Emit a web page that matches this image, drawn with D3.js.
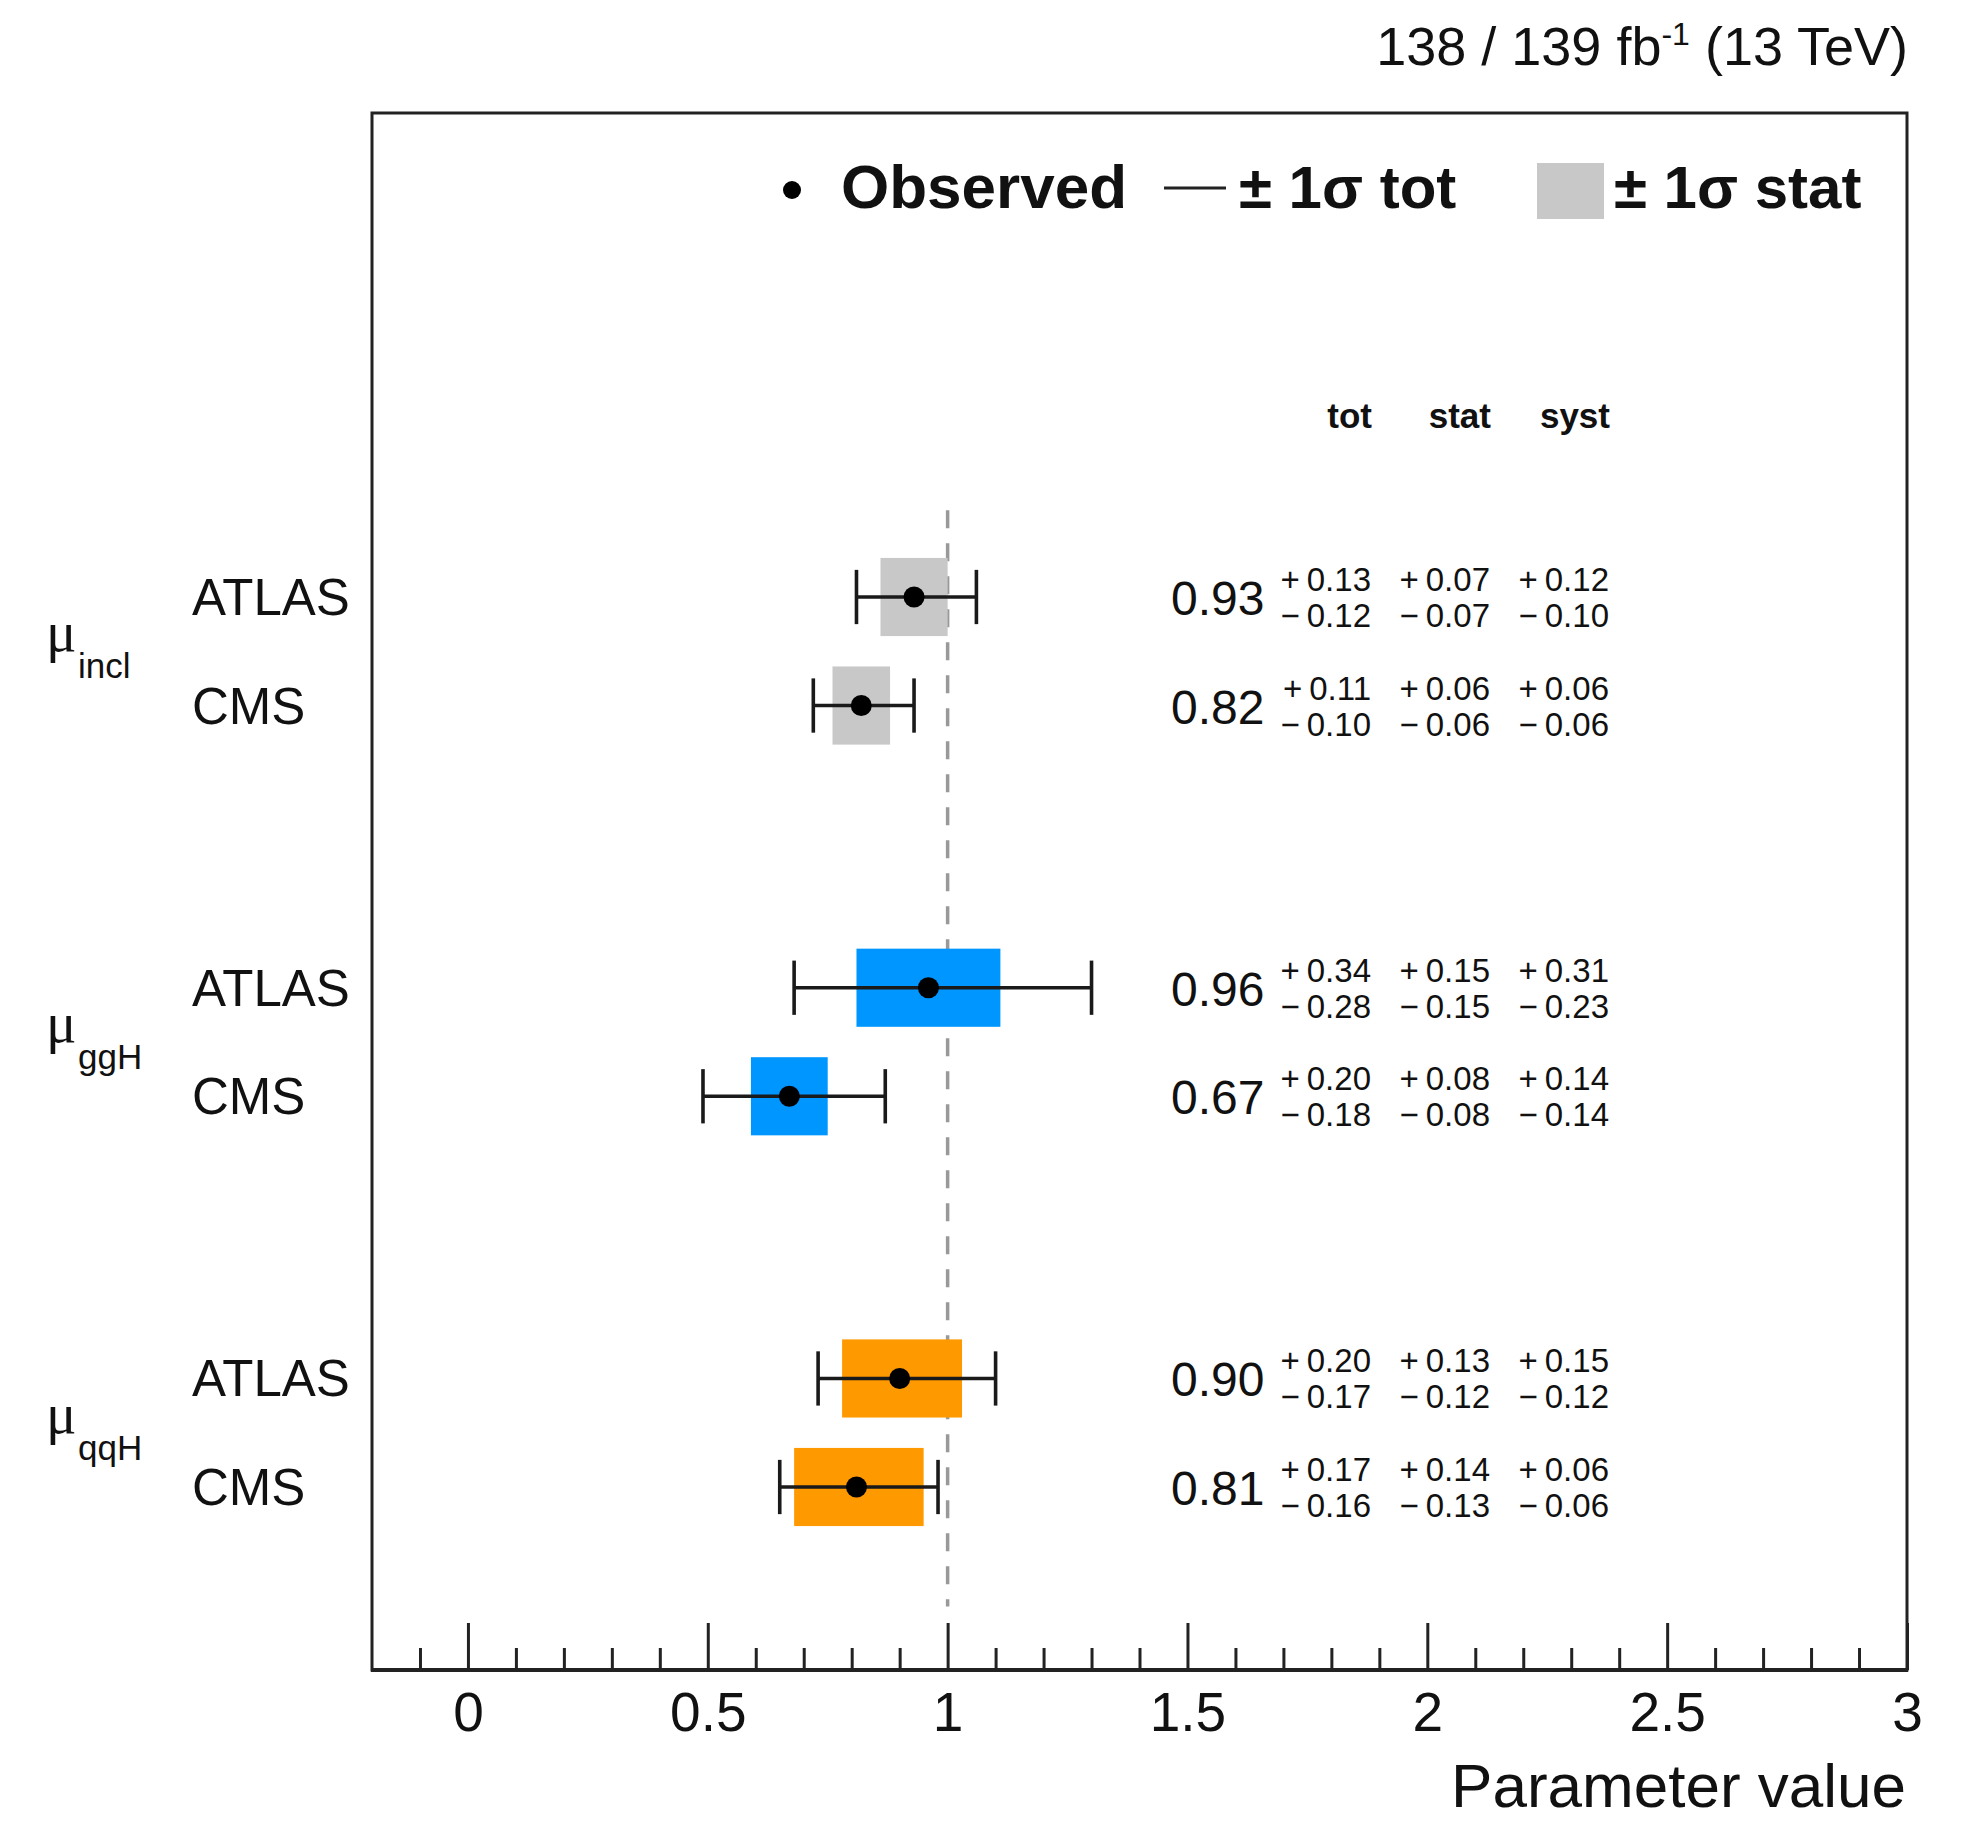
<!DOCTYPE html>
<html>
<head>
<meta charset="utf-8">
<script src="https://cdn.jsdelivr.net/npm/d3@7"></script>
<style>
    body { margin: 0; background: white; }
    text { font-family: "Liberation Sans", Arial, Helvetica, sans-serif; fill: #111; }
</style>
</head>
<body>
<div id="chart"></div>
<script>

// values (ATLAS / CMS per parameter)
var groups = ["incl", "ggH", "qqH"];
var experiments = ["ATLAS", "CMS"];
var central = [0.93, 0.82, 0.96, 0.67, 0.90, 0.81];
var totUp   = [0.13, 0.11, 0.34, 0.20, 0.20, 0.17];
var totDn   = [0.12, 0.10, 0.28, 0.18, 0.17, 0.16];
var statUp  = [0.07, 0.06, 0.15, 0.08, 0.13, 0.14];
var statDn  = [0.07, 0.06, 0.15, 0.08, 0.12, 0.13];
var systUp  = [0.12, 0.06, 0.31, 0.14, 0.15, 0.06];
var systDn  = [0.10, 0.06, 0.23, 0.14, 0.12, 0.06];
var groupColors = ["#c8c8c8", "#0096ff", "#ff9900"];
var xTicks = [0, 0.5, 1, 1.5, 2, 2.5, 3];
var columns = ["tot", "stat", "syst"];

var width = 1962, height = 1822;
var frame = {left: 372, right: 1907, top: 113, bottom: 1670};

var x = d3.scaleLinear().domain([-0.2, 3]).range([frame.left, frame.right]);
// row position: group * 3.6 + experiment index
var y = d3.scaleLinear().domain([0, 8.2]).range([597, 1487]);

var rows = [];
groups.forEach(function (g, gi) {
    experiments.forEach(function (e, ei) {
        var i = gi * 2 + ei;
        rows.push({
            group: gi, exp: e, pos: gi * 3.6 + ei,
            c: central[i], tu: totUp[i], td: totDn[i],
            su: statUp[i], sd: statDn[i], yu: systUp[i], yd: systDn[i]
        });
    });
});

var svg = d3.select("#chart").append("svg")
    .attr("width", width)
    .attr("height", height)
    .style("background", "white");

// title
var title = svg.append("text")
    .attr("x", 1908).attr("y", 65)
    .attr("text-anchor", "end")
    .style("font-size", "54px");
title.append("tspan").text("138 / 139 fb");
title.append("tspan").attr("dy", -20).style("font-size", "32px").text("-1");
title.append("tspan").attr("dy", 20).text(" (13 TeV)");

// frame
svg.append("rect")
    .attr("x", frame.left).attr("y", frame.top)
    .attr("width", frame.right - frame.left)
    .attr("height", frame.bottom - frame.top)
    .attr("fill", "none")
    .attr("stroke", "#222")
    .attr("stroke-width", 3);

// minor ticks
var minorVals = d3.range(-1, 30).filter(function (i) { return i % 5 !== 0; })
    .map(function (i) { return i / 10; });

svg.append("g")
    .attr("transform", "translate(0," + frame.bottom + ")")
    .call(d3.axisBottom(x).tickValues(minorVals).tickSize(-22).tickFormat(""))
    .call(function (g) { g.select(".domain").remove(); })
    .selectAll("line").attr("stroke", "#222").attr("stroke-width", 3);

// major ticks
var xAxis = svg.append("g")
    .attr("transform", "translate(0," + frame.bottom + ")")
    .call(d3.axisBottom(x).tickValues(xTicks).tickSize(-47).tickPadding(22)
        .tickFormat(function (d) { return String(d); }));
xAxis.select(".domain").remove();
xAxis.selectAll("line").attr("stroke", "#222").attr("stroke-width", 3);
xAxis.selectAll("text")
    .style("font-size", "55px")
    .style("font-family", "'Liberation Sans', Arial, sans-serif")
    .attr("fill", "#111");

svg.append("line")
    .attr("x1", frame.left - 1).attr("x2", frame.right + 1)
    .attr("y1", frame.bottom).attr("y2", frame.bottom)
    .attr("stroke", "#222").attr("stroke-width", 4);

svg.append("text")
    .attr("x", 1906).attr("y", 1807)
    .attr("text-anchor", "end")
    .style("font-size", "62px")
    .text("Parameter value");

// SM reference line
svg.append("line")
    .attr("x1", x(1)).attr("x2", x(1))
    .attr("y1", y(-0.8)).attr("y2", y(9.3))
    .attr("stroke", "#999")
    .attr("stroke-width", 3.5)
    .attr("stroke-dasharray", "18,15");

// stat boxes
svg.append("g").selectAll("rect")
    .data(rows)
    .enter().append("rect")
    .attr("x", function (d) { return x(d.c - d.sd); })
    .attr("width", function (d) { return x(d.c + d.su) - x(d.c - d.sd); })
    .attr("y", function (d) { return y(d.pos - 0.36); })
    .attr("height", function (d) { return y(d.pos + 0.36) - y(d.pos - 0.36); })
    .attr("fill", function (d) { return groupColors[d.group]; });

// total error bars
var bars = svg.append("g").selectAll("g")
    .data(rows)
    .enter().append("g")
    .attr("stroke", "#1a1a1a")
    .attr("stroke-width", 3.6);

bars.append("line")
    .attr("x1", function (d) { return x(d.c - d.td); })
    .attr("x2", function (d) { return x(d.c + d.tu); })
    .attr("y1", function (d) { return y(d.pos); })
    .attr("y2", function (d) { return y(d.pos); });

bars.append("line")
    .attr("x1", function (d) { return x(d.c - d.td); })
    .attr("x2", function (d) { return x(d.c - d.td); })
    .attr("y1", function (d) { return y(d.pos - 0.25); })
    .attr("y2", function (d) { return y(d.pos + 0.25); });

bars.append("line")
    .attr("x1", function (d) { return x(d.c + d.tu); })
    .attr("x2", function (d) { return x(d.c + d.tu); })
    .attr("y1", function (d) { return y(d.pos - 0.25); })
    .attr("y2", function (d) { return y(d.pos + 0.25); });

svg.append("g").selectAll("circle")
    .data(rows)
    .enter().append("circle")
    .attr("cx", function (d) { return x(d.c); })
    .attr("cy", function (d) { return y(d.pos); })
    .attr("r", 10.5)
    .attr("fill", "black");

// left labels
svg.append("g").selectAll("text")
    .data(rows)
    .enter().append("text")
    .attr("x", 192)
    .attr("y", function (d) { return y(d.pos) + 18; })
    .style("font-size", "51px")
    .text(function (d) { return d.exp; });

groups.forEach(function (g, gi) {
    var cy = y(gi * 3.6 + 0.5);
    svg.append("text")
        .attr("x", 46).attr("y", cy)
        .style("font-family", "'Liberation Serif', 'Times New Roman', serif")
        .style("font-size", "57px")
        .text("μ");
    svg.append("text")
        .attr("x", 78).attr("y", cy + 27)
        .style("font-size", "35px")
        .text(g);
});

// numbers
var colRight = [1371, 1490, 1609];

columns.forEach(function (c, ci) {
    svg.append("text")
        .attr("x", colRight[ci] + 1).attr("y", 428)
        .attr("text-anchor", "end")
        .style("font-size", "35px")
        .style("font-weight", "bold")
        .text(c);
});

function fmt(v) { return v.toFixed(2); }

rows.forEach(function (d) {
    var ry = y(d.pos);
    svg.append("text")
        .attr("x", 1171).attr("y", ry + 18)
        .style("font-size", "48px")
        .text(fmt(d.c));

    var ups = [d.tu, d.su, d.yu], dns = [d.td, d.sd, d.yd];
    [0, 1, 2].forEach(function (ci) {
        [[ups[ci], "+", ry - 6], [dns[ci], "\u2212", ry + 30]].forEach(function (p) {
            var t = svg.append("text")
                .attr("x", colRight[ci]).attr("y", p[2])
                .attr("text-anchor", "end")
                .style("font-size", "33px")
                .text(fmt(p[0]));
            var w = t.node().getComputedTextLength();
            svg.append("text")
                .attr("x", colRight[ci] - w - 7).attr("y", p[2])
                .attr("text-anchor", "end")
                .style("font-size", "33px")
                .text(p[1]);
        });
    });
});

// legend
var leg = svg.append("g");
leg.append("circle").attr("cx", 792).attr("cy", 190).attr("r", 9).attr("fill", "black");
leg.append("text").attr("x", 841).attr("y", 208)
    .style("font-size", "62px").style("font-weight", "bold").text("Observed");
leg.append("line").attr("x1", 1164).attr("x2", 1226).attr("y1", 188).attr("y2", 188)
    .attr("stroke", "#222").attr("stroke-width", 3);
leg.append("text").attr("x", 1239).attr("y", 208)
    .style("font-size", "60px").style("font-weight", "bold").text("± 1σ tot");
leg.append("rect").attr("x", 1537).attr("y", 163).attr("width", 67).attr("height", 56)
    .attr("fill", groupColors[0]);
leg.append("text").attr("x", 1614).attr("y", 208)
    .style("font-size", "60px").style("font-weight", "bold").text("± 1σ stat");

</script>
</body>
</html>
